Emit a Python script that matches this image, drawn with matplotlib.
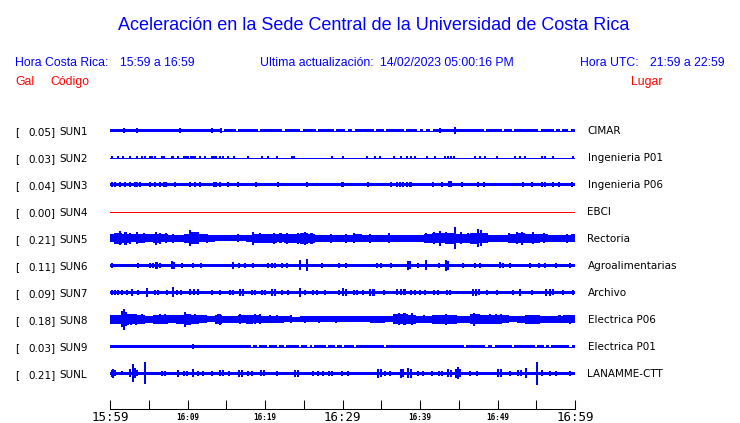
import matplotlib
matplotlib.use("Agg")
import matplotlib.pyplot as plt
import numpy as np

# ---------------- data ----------------
TITLE = "Aceleración en la Sede Central de la Universidad de Costa Rica"
HORA_CR = "15:59 a 16:59"
ULTIMA = "14/02/2023 05:00:16 PM"
HORA_UTC = "21:59 a 22:59"

codes = ["SUN1", "SUN2", "SUN3", "SUN4", "SUN5", "SUN6", "SUN7", "SUN8", "SUN9", "SUNL"]
gals = [0.05, 0.03, 0.04, 0.00, 0.21, 0.11, 0.09, 0.18, 0.03, 0.21]
places = ["CIMAR", "Ingenieria P01", "Ingenieria P06", "EBCI", "Rectoria",
          "Agroalimentarias", "Archivo", "Electrica P06", "Electrica P01", "LANAMME-CTT"]

tick_minutes = list(range(0, 61, 5))
tick_labels = ["15:59", "", "16:09", "", "16:19", "", "16:29", "", "16:39", "", "16:49", "", "16:59"]
major_labels = ["15:59", "16:29", "16:59"]

# continuous band half-amplitude (pixels) per station (0 = single thin line)
base = [1.7, 0.0, 1.7, 0.0, None, 1.7, 1.7, None, 1.7, 1.7]

# per-minute envelopes (minutes 0..60) for the noisier stations
SUN5_ENV = [4.0, 5.3, 4.7, 4.0, 4.7, 4.0, 4.7, 4.0, 3.3, 3.3,
            4.3, 6.0, 4.0, 3.3, 3.0, 3.0, 3.0, 3.0, 3.3, 4.3,
            4.3, 4.3, 4.0, 4.3, 4.7, 5.3, 4.7, 3.3, 3.3, 3.7,
            3.7, 3.7, 4.0, 3.3, 3.3, 3.7, 3.7, 3.3, 3.3, 3.3,
            3.7, 4.7, 5.0, 5.0, 5.7, 4.7, 4.3, 5.3, 5.0, 3.3,
            3.3, 3.7, 4.7, 5.0, 4.7, 4.7, 4.0, 3.3, 3.3, 3.3, 4.0]
SUN8_ENV = [4.3, 4.3, 5.5, 5.0, 4.7, 3.7, 4.3, 4.3, 4.0, 4.7,
            5.3, 4.7, 4.0, 3.0, 4.3, 3.3, 3.3, 4.0, 4.3, 4.0,
            3.3, 3.3, 3.3, 3.0, 2.7, 3.0, 3.0, 3.0, 3.0, 3.0,
            3.0, 3.0, 3.0, 3.0, 3.3, 3.3, 3.0, 5.0, 5.0, 4.7,
            3.3, 3.3, 4.3, 4.3, 4.3, 3.3, 3.3, 5.0, 4.3, 4.3,
            4.3, 4.0, 3.0, 3.3, 4.3, 4.3, 3.3, 3.3, 3.7, 4.0, 4.0]

# intervals (centre minute) where the band thins to a single line
SUN1_QUIET = [14.6, 16.35, 19.2, 22.4, 24.7, 26.7, 29.0, 30.5, 31.4, 34.2, 35.5,
              38.1, 39.8, 40.6, 41.5, 48.4, 50.7, 52.0, 55.4, 57.4, 58.2, 59.3]
SUN9_QUIET = [18.3, 19.1, 20.4, 21.7, 22.6, 24.5, 25.6, 26.2, 27.96, 29.2, 30.1,
              31.6, 35.5, 45.8, 48.6, 49.5, 52.0, 55.0, 56.1, 56.8, 59.4]

# bursts: time (minutes after 15:59) and half amplitude (pixels)
SUN1_T = [1.85, 3.44, 6.4, 9.0, 13.2, 14.3, 42.6, 44.5]
SUN1_A = [2.3, 2.3, 1.8, 2.3, 2.3, 2.5, 2.7, 3.3]

SUN2_T = [0.22, 1.0, 1.72, 2.58, 3.44, 4.09, 4.52, 5.2, 5.4, 5.8, 6.67, 7.0, 7.96, 8.17,
          8.82, 9.5, 9.8, 10.1, 10.4, 10.7, 11.0, 11.6, 12.26, 13.1, 13.4, 13.7, 14.2,
          14.6, 15.27, 16.04, 17.85, 19.57, 20.4, 21.5, 23.5, 23.8, 28.6, 30.1, 33.1,
          34.2, 34.8, 36.6, 37.6, 38.3, 38.9, 39.4, 40.9, 41.9, 43.2, 43.6, 44.0, 44.4,
          47.1, 47.7, 48.4, 49.9, 52.2, 52.9, 53.5, 55.7, 56.1, 57.2, 59.7]
SUN2_A = [1.3, 1.3, 1.3, 1.3, 1.3, 1.3, 1.3, 1.3, 1.3, 1.3, 1.3, 1.3, 1.3, 1.3,
          1.3, 1.3, 1.3, 1.5, 1.5, 1.5, 1.3, 1.3, 1.3, 1.3, 1.5, 1.3, 1.3,
          1.3, 1.3, 1.7, 1.3, 1.3, 1.3, 1.3, 1.3, 1.3, 1.3, 1.3, 1.3,
          1.3, 1.3, 1.3, 1.3, 1.3, 1.3, 1.3, 1.3, 1.3, 1.3, 1.3, 1.3, 1.3,
          1.3, 1.3, 1.3, 1.3, 1.3, 1.3, 1.3, 1.3, 1.3, 1.3, 1.3]

SUN3_T = [0.22, 0.65, 1.29, 1.94, 2.58, 3.23, 3.44, 3.87, 5.16, 5.8, 6.45, 7.0, 7.2, 8.39,
          10.3, 10.97, 11.6, 13.4, 13.7, 14.2, 15.27, 16.56, 18.9, 21.7, 25.4, 30.0,
          33.3, 36.3, 36.99, 37.4, 37.8, 38.3, 38.7, 38.9, 41.7, 42.8, 43.7, 44.0, 45.4,
          47.5, 48.2, 53.3, 54.4, 55.7, 56.1, 57.2, 57.9, 59.6]
SUN3_A = [2.5, 2.5, 2.5, 2.5, 2.5, 2.5, 2.5, 2.5, 2.5, 2.5, 2.5, 2.5, 2.5, 2.5,
          2.5, 2.5, 2.5, 2.5, 2.5, 2.5, 2.5, 2.5, 2.5, 2.5, 2.5, 2.5,
          2.5, 2.5, 2.5, 2.5, 2.5, 2.5, 2.5, 2.5, 2.5, 2.5, 3.0, 3.0, 2.5,
          2.5, 2.5, 2.5, 2.5, 2.5, 2.5, 2.5, 2.5, 2.5]

SUN5_T = [1.3, 2.0, 2.6, 3.5, 4.4, 5.9, 6.5, 7.2, 8.1, 10.3, 10.6, 11.2, 12.5, 16.5,
          18.4, 19.3, 21.1, 22.0, 22.8, 24.2, 25.2, 26.0, 28.5, 30.5, 31.5, 33.5, 36.0,
          40.8, 41.8, 42.6, 43.3, 44.5, 45.3, 46.2, 47.5, 47.9, 48.6, 51.5, 52.5, 53.2,
          54.6, 56.0, 59.0]
SUN5_A = [7.0, 6.5, 5.5, 6.0, 5.0, 6.7, 5.3, 5.0, 4.5, 8.0, 6.0, 5.5, 4.5, 4.0,
          6.7, 5.0, 5.5, 5.0, 5.7, 5.5, 6.7, 5.5, 4.5, 4.5, 5.0, 4.5, 5.0,
          5.0, 6.0, 7.7, 6.0, 11.0, 6.0, 5.0, 9.0, 8.0, 5.0, 5.0, 6.0, 6.7,
          6.0, 5.0, 4.5]

SUN6_T = [0.2, 3.66, 5.2, 5.6, 6.0, 6.45, 8.0, 8.2, 9.25, 10.75, 11.8, 15.9, 16.6, 17.4,
          18.5, 20.4, 20.9, 21.3, 22.15, 22.8, 24.5, 25.4, 27.3, 29.5, 30.5, 34.4, 35.0,
          36.3, 38.5, 38.7, 39.8, 40.8, 42.4, 43.4, 43.6, 45.6, 47.1, 47.7, 50.3, 50.7,
          51.6, 54.2, 55.3, 56.1, 57.6, 59.3]
SUN6_A = [2.5, 2.5, 2.7, 2.7, 3.3, 2.5, 4.0, 3.5, 2.5, 2.5, 2.5, 3.3, 2.5, 2.5,
          2.7, 2.5, 2.7, 2.7, 2.5, 2.5, 5.0, 6.0, 2.5, 2.5, 2.7, 2.5, 2.5,
          2.5, 4.7, 4.0, 2.5, 5.0, 2.5, 5.3, 4.5, 2.7, 2.5, 2.5, 3.0, 2.7,
          2.5, 2.5, 2.5, 2.5, 2.5, 2.5]

SUN7_T = [0.2, 0.6, 1.0, 1.5, 2.15, 2.8, 3.66, 4.73, 5.8, 6.24, 7.3, 8.17, 8.7, 9.1, 10.3,
          10.8, 11.4, 13.1, 14.2, 15.5, 15.9, 16.8, 17.2, 18.3, 18.7, 19.6, 20.0, 20.9,
          21.3, 22.15, 23.0, 24.5, 25.2, 26.2, 26.7, 27.7, 29.5, 30.1, 30.4, 31.5, 31.9,
          32.7, 33.6, 34.0, 35.3, 37.0, 37.5, 38.0, 38.8, 39.4, 40.0, 40.6, 41.8, 42.3,
          43.5, 43.9, 46.8, 47.2, 47.6, 48.6, 49.9, 52.0, 52.9, 54.4, 56.2, 56.8, 57.2,
          58.5, 59.8]
SUN7_A = [2.7, 2.7, 2.5, 2.5, 2.5, 3.3, 2.5, 4.5, 2.5, 2.5, 2.5, 5.0, 2.7, 2.7, 3.0,
          3.0, 3.0, 2.5, 2.5, 2.7, 2.7, 3.3, 3.3, 2.7, 2.7, 2.7, 2.7, 3.3,
          3.3, 2.5, 2.5, 4.3, 2.7, 2.7, 2.7, 2.5, 2.5, 4.0, 3.5, 2.7, 2.7,
          2.5, 3.3, 3.3, 2.5, 3.0, 3.0, 3.0, 2.7, 2.7, 2.7, 2.5, 2.7, 2.7,
          2.7, 2.7, 3.3, 3.3, 3.0, 2.5, 2.5, 2.5, 3.3, 2.5, 3.3, 3.3, 3.0,
          2.5, 2.5]

SUN8_T = [1.5, 1.8, 2.1, 2.7, 3.4, 4.1, 6.4, 7.1, 9.7, 10.2, 11.0, 13.9, 14.2, 16.8,
          18.7, 19.3, 20.6, 21.6, 23.3, 25.2, 27.0, 29.2, 34.0, 35.3, 37.3, 38.0, 39.0,
          40.5, 42.0, 43.4, 44.6, 47.0, 47.6, 49.0, 49.8, 50.5, 53.8, 55.3, 58.0, 59.3]
SUN8_A = [8.0, 10.5, 7.0, 5.3, 5.7, 5.0, 5.0, 5.0, 7.3, 5.5, 5.0, 5.0, 5.5, 5.0,
          5.0, 5.0, 4.0, 4.0, 4.0, 3.5, 3.5, 3.5, 3.7, 3.7, 6.0, 6.0, 6.0,
          4.0, 4.5, 5.7, 4.5, 6.7, 5.0, 5.0, 5.0, 5.0, 4.5, 4.5, 4.0, 4.7]

SUN9_T = [10.75]
SUN9_A = [2.3]

SUNL_T = [0.2, 0.43, 0.7, 1.5, 2.58, 3.0, 3.2, 3.44, 4.52, 6.7, 7.1, 8.8, 9.5, 9.9, 10.75,
          11.4, 12.0, 13.1, 14.2, 14.6, 15.3, 16.6, 17.0, 17.8, 18.3, 19.5, 19.9, 21.6,
          23.9, 24.3, 26.2, 26.9, 27.5, 28.3, 28.7, 29.9, 30.75, 34.6, 35.0, 35.5, 36.1,
          37.5, 37.8, 38.5, 38.9, 39.8, 40.4, 41.5, 42.5, 42.8, 43.6, 44.0, 44.6, 44.9,
          45.2, 46.4, 47.3, 50.1, 50.5, 51.6, 52.6, 53.0, 53.7, 55.05, 55.7, 56.8, 57.6,
          59.4]
SUNL_A = [3.3, 4.3, 3.0, 2.0, 4.0, 9.0, 5.0, 3.0, 11.0, 2.5, 2.5, 3.3, 2.5, 2.5, 4.0,
          2.5, 2.5, 2.5, 3.0, 3.0, 2.5, 3.3, 3.3, 2.5, 2.5, 3.0, 3.0, 2.5,
          3.3, 3.3, 2.5, 2.5, 2.5, 2.7, 2.7, 2.5, 2.7, 4.7, 4.0, 2.5, 2.5,
          4.7, 4.0, 5.0, 4.5, 2.5, 2.5, 2.5, 2.7, 2.7, 4.0, 3.5, 4.7, 6.0,
          4.0, 2.5, 2.5, 4.0, 4.0, 2.5, 3.0, 3.0, 5.0, 11.7, 3.0, 2.5, 2.5,
          2.5]

envs = [None, None, None, None, SUN5_ENV, None, None, SUN8_ENV, None, None]
quiets = [SUN1_QUIET, [], [], [], [], [], [], [], SUN9_QUIET, []]
burst_t = [SUN1_T, SUN2_T, SUN3_T, [], SUN5_T, SUN6_T, SUN7_T, SUN8_T, SUN9_T, SUNL_T]
burst_a = [SUN1_A, SUN2_A, SUN3_A, [], SUN5_A, SUN6_A, SUN7_A, SUN8_A, SUN9_A, SUNL_A]

# ---------------- figure ----------------
W, H = 740, 423
fig = plt.figure(figsize=(W / 100, H / 100), dpi=100)


def fx(px):
    return px / W


def fy(py):
    return 1 - py / H


BLUE = "#0000ff"
RED = "#ff0000"
HDR = dict(family="Liberation Sans", fontsize=8.8, va="baseline")

fig.text(fx(374), fy(30), TITLE, ha="center", va="baseline", color=BLUE,
         family="Liberation Sans", fontsize=13)
fig.text(fx(15), fy(65.5), "Hora Costa Rica:", color=BLUE, ha="left", **HDR)
fig.text(fx(120.5), fy(65.5), HORA_CR, color=BLUE, ha="left", **HDR)
fig.text(fx(260), fy(65.5), "Ultima actualización:", color=BLUE, ha="left", **HDR)
fig.text(fx(380.5), fy(65.5), ULTIMA, color=BLUE, ha="left", **HDR)
fig.text(fx(580.5), fy(65.5), "Hora UTC:", color=BLUE, ha="left", **HDR)
fig.text(fx(650.5), fy(65.5), HORA_UTC, color=BLUE, ha="left", **HDR)
fig.text(fx(15), fy(85), "Gal", color=RED, ha="left", **HDR)
fig.text(fx(50.5), fy(85), "Código", color=RED, ha="left", **HDR)
fig.text(fx(630.5), fy(85), "Lugar", color=RED, ha="left", **HDR)

# trace axes: x in minutes, y in pixel rows
ax = fig.add_axes([fx(110), fy(409), fx(575) - fx(110), fy(115) - fy(409)])
ax.set_xlim(0, 60)
ax.set_ylim(409, 115)
ax.set_facecolor("none")
for s in ("left", "right", "top"):
    ax.spines[s].set_visible(False)
ax.spines["bottom"].set_linewidth(0.75)
ax.set_yticks([])
ax.set_xticks(tick_minutes)
ax.set_xticklabels([])
ax.tick_params(axis="x", direction="in", length=6.5, width=0.75, color="black")

LBL = dict(family="DejaVu Sans", fontsize=7.5, color="black", va="baseline")
QW = 0.3   # width (minutes) of a thin section
BW = 0.26  # width (minutes) of a burst
THIN = 0.5  # single-pixel line width (points)

for i, code in enumerate(codes):
    off = 130.3 + 27 * i
    py = off
    fig.text(fx(15), fy(py + 4.5), "[", ha="left", **LBL)
    fig.text(fx(55.5), fy(py + 4.5), f"{gals[i]:.2f}]", ha="right", **LBL)
    fig.text(fx(59), fy(py + 4.5), code, ha="left", **LBL)
    fig.text(fx(587.5), fy(py + 4.0), places[i], ha="left", **LBL)

    if code == "SUN4":
        ax.hlines(round(off) + 0.5, 0, 60, color=RED, lw=THIN, antialiased=False)
        continue

    ax.hlines(round(off) + 0.5, 0, 60, color=BLUE, lw=THIN, antialiased=False)
    if envs[i] is not None:
        m = np.arange(len(envs[i]))
        e = np.array(envs[i])
        ax.fill_between(m, off - e, off + e, step="mid", color=BLUE, lw=0,
                        antialiased=False)
    elif base[i] > 0:
        b = base[i]
        cuts = sorted(quiets[i])
        starts = [0.0] + [c + QW / 2 for c in cuts]
        ends = [c - QW / 2 for c in cuts] + [60.0]
        for s0, s1 in zip(starts, ends):
            if s1 > s0:
                ax.fill_between([s0, s1], off - b, off + b, color=BLUE, lw=0,
                                antialiased=False)
    if burst_t[i]:
        a = np.array(burst_a[i])
        ax.bar(burst_t[i], 2 * a, bottom=off - a, width=BW, color=BLUE, lw=0,
               antialiased=False)

# time labels
for tm, lab in zip(tick_minutes, tick_labels):
    if not lab:
        continue
    if lab in major_labels:
        ax.text(tm, 421, lab, ha="center", va="baseline", family="DejaVu Sans Mono",
                fontsize=9, clip_on=False)
    else:
        ax.text(tm, 419.5, lab, ha="center", va="baseline", family="DejaVu Sans Mono",
                fontsize=5.5, fontweight="bold", clip_on=False)

fig.savefig("out.png", dpi=100)
